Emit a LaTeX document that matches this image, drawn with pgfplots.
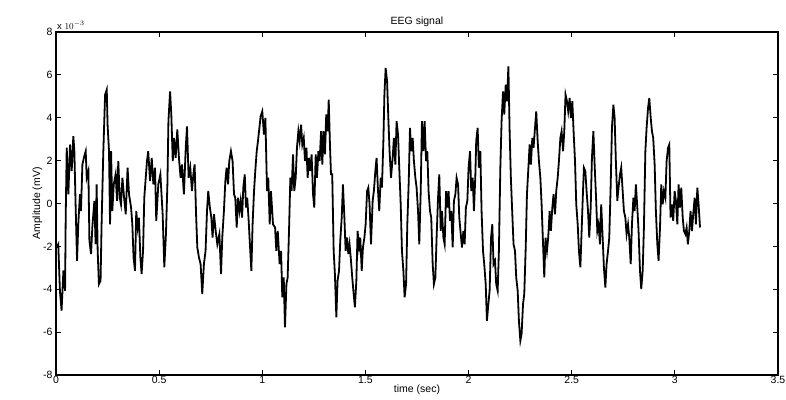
\documentclass[border=0pt]{standalone}
\usepackage{fontspec}
\setmainfont{Liberation Sans}
\usepackage{pgfplots}
\pgfplotsset{compat=1.18}

\begin{document}
\begin{tikzpicture}
\begin{axis}[
    name=ax,
    scale only axis,
    width=722pt, height=343pt,
    xmin=0, xmax=3.5, ymin=-8, ymax=8,
    xtick={0,0.5,...,3.5},
    ytick={-8,-6,...,8},
    xticklabels={0,0.5,1,1.5,2,2.5,3,3.5},
    tick align=inside,
    major tick length=5pt,
    tick style={black, line width=1pt},
    axis line style={black, line width=1.3pt},
    /pgf/number format/assume math mode=true,
    tick label style={font=\fontsize{10.5}{12}\selectfont},
    xticklabel style={yshift=2pt},
    xlabel={time (sec)},
    ylabel={Amplitude (mV)},
    label style={font=\fontsize{10.5}{12}\selectfont},
    xlabel style={yshift=6pt},
    ylabel style={yshift=-6pt},
    title={EEG signal},
    title style={font=\fontsize{10.5}{12}\selectfont, yshift=-4pt},
]
\addplot[black, line width=1.8pt] coordinates {
(0.003,-2.05) (0.011,-1.90) (0.019,-4.07) (0.027,-5.00) (0.036,-3.12) (0.044,-4.07)
(0.047,-0.66) (0.052,2.60) (0.060,0.43) (0.068,2.75) (0.076,1.51) (0.084,3.14)
(0.089,2.44) (0.095,-0.04) (0.102,-2.67) (0.108,-0.97) (0.116,0.43) (0.121,-0.35)
(0.128,1.82) (0.137,2.21) (0.144,2.44) (0.149,1.20) (0.157,1.51) (0.162,-1.74)
(0.170,-2.36) (0.176,-1.12) (0.186,0.12) (0.192,-1.90) (0.197,0.89) (0.202,-2.21)
(0.208,-3.76) (0.216,-3.60) (0.221,-0.97) (0.229,2.29) (0.238,5.08) (0.246,5.31)
(0.250,3.68) (0.257,2.44) (0.262,-0.97) (0.267,2.44) (0.273,-0.35) (0.280,0.89)
(0.289,1.36) (0.296,0.12) (0.302,1.98) (0.309,0.27) (0.315,-0.04) (0.322,1.20)
(0.330,0.27) (0.338,-0.50) (0.347,1.67) (0.354,0.43) (0.364,-0.19) (0.370,-0.97)
(0.376,-2.52) (0.383,-3.14) (0.389,-0.35) (0.396,-1.12) (0.402,-0.66) (0.409,-2.52)
(0.415,-3.29) (0.422,-2.21) (0.428,0.27) (0.435,1.20) (0.441,1.98) (0.447,2.44)
(0.456,1.05) (0.464,2.13) (0.472,0.89) (0.480,1.67) (0.486,-0.81) (0.496,0.89)
(0.506,1.36) (0.517,-0.50) (0.525,-2.98) (0.533,-1.43) (0.540,0.89) (0.545,3.84)
(0.553,5.23) (0.559,4.15) (0.566,1.98) (0.572,3.06) (0.580,2.13) (0.588,3.45)
(0.596,2.13) (0.604,1.20) (0.611,1.82) (0.620,0.43) (0.629,2.60) (0.635,3.60)
(0.643,1.20) (0.651,1.67) (0.659,0.58) (0.666,1.36) (0.672,1.82) (0.679,-0.50)
(0.685,-2.05) (0.693,-2.52) (0.701,-2.83) (0.709,-4.22) (0.717,-2.83) (0.725,-2.21)
(0.732,-0.35) (0.738,0.58) (0.746,-0.19) (0.753,-0.66) (0.759,-1.59) (0.766,-0.50)
(0.774,-1.28) (0.782,-1.90) (0.792,-1.43) (0.800,-3.29) (0.806,-1.59) (0.814,-0.35)
(0.821,1.05) (0.827,1.67) (0.834,0.89) (0.840,1.98) (0.848,2.44) (0.856,1.98)
(0.863,0.43) (0.869,0.27) (0.876,-1.12) (0.882,0.27) (0.889,-0.35) (0.895,0.12)
(0.902,-0.66) (0.908,0.74) (0.915,1.36) (0.921,-0.19) (0.927,0.27) (0.934,-0.81)
(0.940,-1.90) (0.947,-3.14) (0.953,-0.97) (0.960,0.58) (0.966,1.51) (0.973,2.44)
(0.979,2.91) (0.986,3.53) (0.992,4.07) (1.000,4.30) (1.008,3.22) (1.015,3.99)
(1.023,0.58) (1.029,1.20) (1.036,-0.97) (1.042,0.58) (1.052,-0.97) (1.062,-1.12)
(1.068,-2.21) (1.075,-1.28) (1.084,-2.83) (1.091,-2.21) (1.097,-4.38) (1.104,-3.45)
(1.110,-5.78) (1.117,-3.76) (1.123,-3.45) (1.130,-1.12) (1.136,1.20) (1.142,0.58)
(1.149,2.29) (1.155,0.58) (1.162,1.20) (1.168,2.60) (1.175,3.37) (1.181,2.91)
(1.188,3.68) (1.194,2.75) (1.201,3.06) (1.207,1.98) (1.214,2.60) (1.220,1.20)
(1.226,2.13) (1.233,1.51) (1.239,2.29) (1.246,0.43) (1.252,-0.19) (1.259,2.29)
(1.265,1.20) (1.272,2.44) (1.278,1.98) (1.285,3.37) (1.291,1.82) (1.297,3.37)
(1.304,2.29) (1.310,4.15) (1.317,3.37) (1.322,4.84) (1.328,2.75) (1.333,1.36)
(1.339,1.36) (1.346,-2.21) (1.352,-3.29) (1.359,-5.31) (1.365,-3.60) (1.372,-3.14)
(1.378,-1.74) (1.385,-0.66) (1.391,0.89) (1.398,-0.66) (1.404,-2.21) (1.411,-1.59)
(1.417,-2.36) (1.423,-1.90) (1.430,-2.67) (1.436,-3.45) (1.443,-4.22) (1.449,-4.84)
(1.456,-3.60) (1.462,-1.28) (1.469,-2.05) (1.475,-1.59) (1.482,-3.14) (1.488,-2.05)
(1.495,-1.59) (1.501,-0.97) (1.508,0.58) (1.514,0.74) (1.520,-0.04) (1.527,-1.90)
(1.535,0.12) (1.541,0.58) (1.548,1.51) (1.554,2.13) (1.561,0.58) (1.567,-0.35)
(1.574,1.20) (1.580,0.74) (1.587,2.91) (1.592,5.08) (1.598,6.32) (1.605,5.70)
(1.611,3.99) (1.617,2.44) (1.624,1.20) (1.632,2.13) (1.638,3.06) (1.645,1.82)
(1.651,3.84) (1.658,3.22) (1.664,1.67) (1.671,-0.04) (1.677,-2.21) (1.684,-3.14)
(1.690,-4.38) (1.697,-3.76) (1.703,-0.97) (1.710,1.05) (1.716,3.53) (1.722,2.44)
(1.729,3.06) (1.735,1.98) (1.742,1.20) (1.748,0.74) (1.755,-0.35) (1.761,-1.90)
(1.768,0.58) (1.774,3.84) (1.781,2.44) (1.787,3.84) (1.794,1.98) (1.800,2.44)
(1.806,0.58) (1.813,-0.35) (1.819,-0.66) (1.826,-2.83) (1.832,-3.76) (1.839,-3.45)
(1.845,-1.59) (1.852,0.27) (1.858,1.36) (1.865,-1.28) (1.871,-0.35) (1.878,-1.59)
(1.884,-1.90) (1.891,0.58) (1.897,-0.19) (1.903,0.58) (1.910,-0.81) (1.916,-0.35)
(1.923,-2.05) (1.929,0.12) (1.936,0.43) (1.942,1.20) (1.949,0.89) (1.955,-0.66)
(1.962,-1.43) (1.968,-2.05) (1.975,-1.28) (1.981,-1.90) (1.987,-0.19) (1.994,0.12)
(2.000,1.67) (2.007,2.44) (2.013,0.58) (2.020,1.20) (2.026,-0.35) (2.033,1.36)
(2.037,2.91) (2.044,3.53) (2.050,1.67) (2.057,2.44) (2.063,-0.35) (2.070,-2.21)
(2.076,-2.83) (2.083,-3.76) (2.089,-5.47) (2.096,-4.69) (2.102,-4.07) (2.109,-1.59)
(2.115,-0.97) (2.121,-2.83) (2.128,-2.67) (2.134,-3.76) (2.141,-4.07) (2.147,-2.21)
(2.154,1.67) (2.160,3.84) (2.167,5.23) (2.173,4.15) (2.180,5.54) (2.186,4.77)
(2.193,6.40) (2.199,3.37) (2.205,1.20) (2.212,-0.50) (2.218,-1.90) (2.225,-2.21)
(2.231,-3.45) (2.238,-4.07) (2.244,-5.47) (2.251,-6.40) (2.257,-6.09) (2.264,-4.69)
(2.270,-4.22) (2.277,-2.05) (2.283,0.43) (2.290,1.67) (2.296,2.75) (2.302,1.82)
(2.309,3.06) (2.315,2.60) (2.322,3.53) (2.328,4.30) (2.335,2.91) (2.341,1.98)
(2.348,1.20) (2.354,-0.04) (2.361,-1.90) (2.367,-3.45) (2.373,-1.59) (2.380,-2.21)
(2.386,-1.59) (2.393,-0.35) (2.399,-1.28) (2.406,-0.19) (2.412,0.43) (2.419,-0.50)
(2.425,0.58) (2.432,1.20) (2.438,1.98) (2.445,3.06) (2.451,3.37) (2.458,2.44)
(2.464,3.37) (2.470,5.08) (2.477,4.77) (2.483,4.30) (2.490,4.92) (2.496,3.99)
(2.503,4.77) (2.509,3.37) (2.516,1.98) (2.522,-0.04) (2.529,-0.97) (2.535,-2.21)
(2.542,-2.98) (2.553,0.12) (2.559,1.67) (2.566,1.51) (2.572,0.58) (2.579,-0.35)
(2.585,-1.59) (2.592,-0.19) (2.598,2.13) (2.605,3.37) (2.611,1.82) (2.618,0.27)
(2.624,-1.28) (2.630,-0.97) (2.637,-1.90) (2.643,-0.04) (2.650,-1.59) (2.656,-2.98)
(2.663,-3.92) (2.669,-2.83) (2.676,-2.21) (2.682,-1.59) (2.689,0.89) (2.695,3.53)
(2.702,4.61) (2.708,3.99) (2.714,1.98) (2.721,0.12) (2.727,0.74) (2.734,1.36)
(2.740,1.67) (2.747,0.58) (2.753,-0.35) (2.760,-0.66) (2.766,-1.43) (2.773,-0.97)
(2.779,-1.59) (2.786,-2.83) (2.792,-0.97) (2.799,0.27) (2.805,-0.35) (2.811,0.89)
(2.818,-0.19) (2.824,-1.28) (2.831,-3.14) (2.837,-3.99) (2.844,-3.14) (2.850,-1.12)
(2.857,2.44) (2.863,3.53) (2.870,4.46) (2.876,4.92) (2.883,3.99) (2.889,3.37)
(2.895,3.06) (2.902,1.82) (2.908,-0.35) (2.915,-1.90) (2.921,-2.67) (2.928,-1.12)
(2.934,0.89) (2.941,-0.04) (2.947,0.58) (2.954,0.27) (2.960,1.98) (2.967,2.60)
(2.973,2.75) (2.979,-0.66) (2.986,-0.04) (2.992,-0.81) (2.999,0.58) (3.005,0.12)
(3.012,-0.97) (3.018,0.89) (3.025,-0.19) (3.031,0.74) (3.038,-0.66) (3.044,-1.28)
(3.051,-1.43) (3.057,-1.12) (3.063,-1.90) (3.070,-1.28) (3.076,-0.35) (3.083,-1.28)
(3.089,-0.50) (3.096,0.27) (3.102,-0.97) (3.109,0.74) (3.115,-0.04) (3.122,-1.12)
};
\end{axis}
\node[anchor=south west, font=\fontsize{9.5}{10}\selectfont, inner sep=1pt]
  at ([yshift=1pt]ax.north west) {x $10^{-3}$};
\pgfresetboundingbox
\path[use as bounding box] ([xshift=-56pt,yshift=-25pt]ax.south west)
  rectangle ([xshift=8pt,yshift=32pt]ax.north east);
\end{tikzpicture}
\end{document}
